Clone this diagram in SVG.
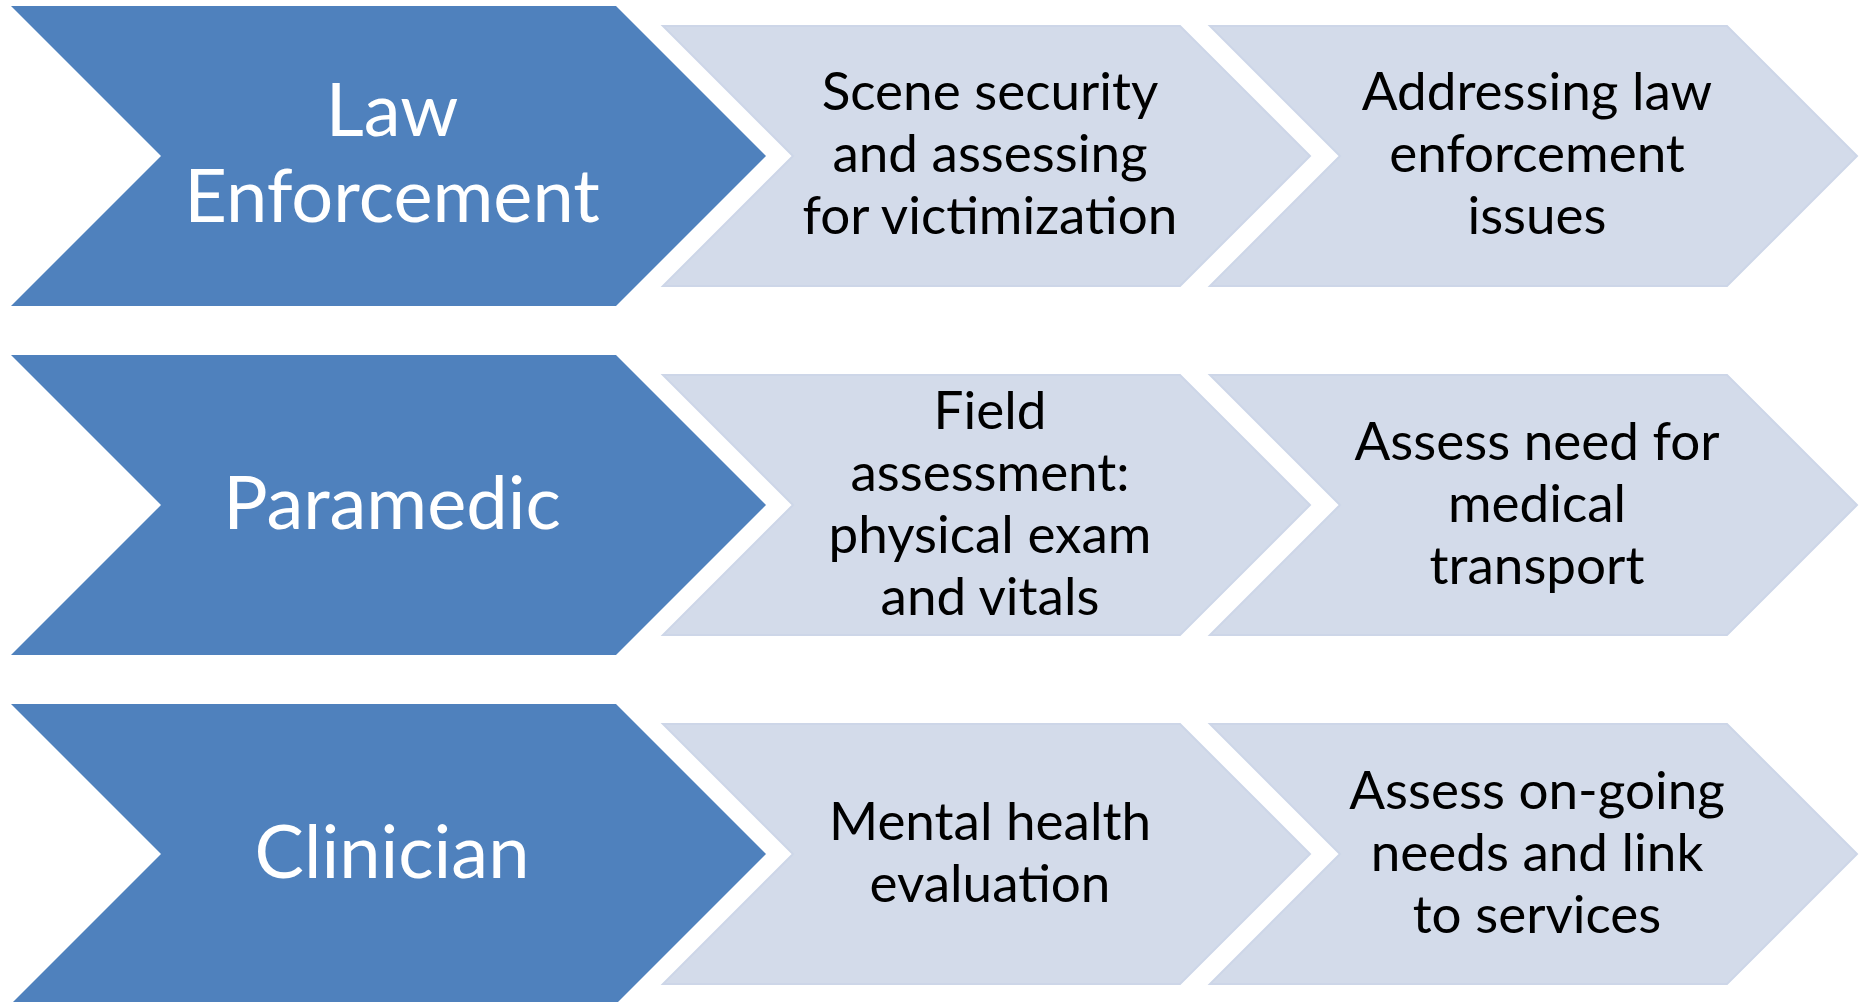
<svg xmlns="http://www.w3.org/2000/svg" width="1862" height="1002" viewBox="0 0 1862 1002">
<style>
.big{fill:#4F81BD}
.light{fill:#D3DBEA;stroke:#CDD6E8;stroke-width:2}
.bt{font-family:Lato,"Liberation Sans",sans-serif;font-size:74px;fill:#FFFFFF;text-anchor:middle}
.lt{font-family:Lato,"Liberation Sans",sans-serif;font-size:53px;fill:#000000;text-anchor:middle}
</style>
<rect width="1862" height="1002" fill="#FFFFFF"/>
<g id="connectors"/>
<g id="law-enforcement">
<polygon class="big" points="11,6 616,6 766,156 616,306 11,306 161,156"/>
<text class="bt" x="392" y="136">Law</text>
<text class="bt" x="392" y="222">Enforcement</text>
</g>
<g id="scene-security">
<polygon class="light" points="663,26 1180,26 1310,156 1180,286 663,286 793,156"/>
<text class="lt" x="990" y="110">Scene security</text>
<text class="lt" x="990" y="172">and assessing</text>
<text class="lt" x="990" y="234">for victimization</text>
</g>
<g id="addressing-law">
<polygon class="light" points="1210,26 1727,26 1857,156 1727,286 1210,286 1340,156"/>
<text class="lt" x="1537" y="110">Addressing law</text>
<text class="lt" x="1537" y="172">enforcement</text>
<text class="lt" x="1537" y="234">issues</text>
</g>
<g id="paramedic">
<polygon class="big" points="11,355 616,355 766,505 616,655 11,655 161,505"/>
<text class="bt" x="392" y="529">Paramedic</text>
</g>
<g id="field-assessment">
<polygon class="light" points="663,375 1180,375 1310,505 1180,635 663,635 793,505"/>
<text class="lt" x="990" y="429">Field</text>
<text class="lt" x="990" y="491">assessment:</text>
<text class="lt" x="990" y="553">physical exam</text>
<text class="lt" x="990" y="615">and vitals</text>
</g>
<g id="medical-transport">
<polygon class="light" points="1210,375 1727,375 1857,505 1727,635 1210,635 1340,505"/>
<text class="lt" x="1537" y="460">Assess need for</text>
<text class="lt" x="1537" y="522">medical</text>
<text class="lt" x="1537" y="584">transport</text>
</g>
<g id="clinician">
<polygon class="big" points="11,704 616,704 766,854 616,1004 11,1004 161,854"/>
<text class="bt" x="392" y="878">Clinician</text>
</g>
<g id="mental-health">
<polygon class="light" points="663,724 1180,724 1310,854 1180,984 663,984 793,854"/>
<text class="lt" x="990" y="840">Mental health</text>
<text class="lt" x="990" y="902">evaluation</text>
</g>
<g id="ongoing-needs">
<polygon class="light" points="1210,724 1727,724 1857,854 1727,984 1210,984 1340,854"/>
<text class="lt" x="1537" y="809">Assess on-going</text>
<text class="lt" x="1537" y="871">needs and link</text>
<text class="lt" x="1537" y="933">to services</text>
</g>
</svg>
